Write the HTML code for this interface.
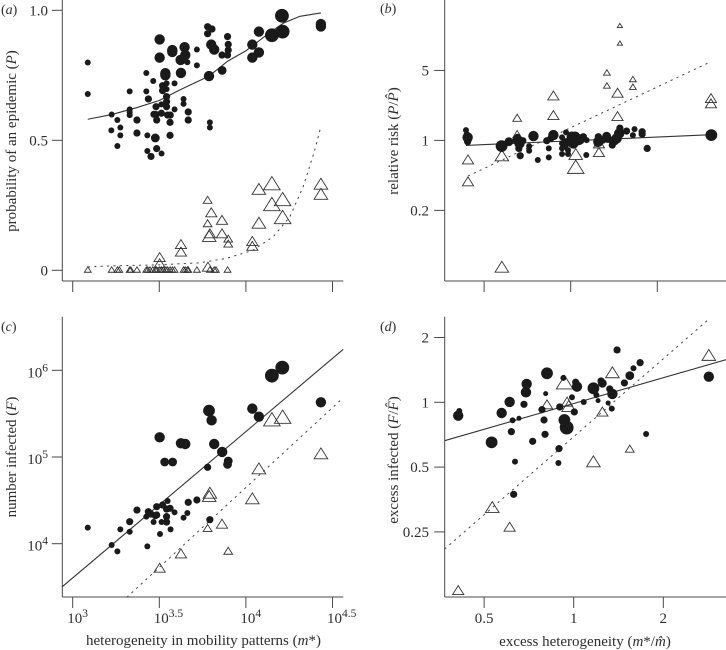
<!DOCTYPE html>
<html>
<head>
<meta charset="utf-8">
<title>Epidemic risk and mobility heterogeneity</title>
<style>
html,body{margin:0;padding:0;background:#fff;}
#figure{display:block;width:726px;height:650px;font-family:"Liberation Serif",serif;font-size:15px;fill:#2e2e2e;filter:blur(0.3px);}
</style>
</head>
<body>
<svg id="figure" xmlns="http://www.w3.org/2000/svg" width="726" height="650" viewBox="0 0 726 650">
<text x="1" y="14" font-size="14">(<tspan font-style="italic">a</tspan>)</text>
<text x="380" y="13" font-size="14">(<tspan font-style="italic">b</tspan>)</text>
<text x="1" y="331" font-size="14">(<tspan font-style="italic">c</tspan>)</text>
<text x="380" y="331" font-size="14">(<tspan font-style="italic">d</tspan>)</text>
<text transform="translate(16,141) rotate(-90)" text-anchor="middle">probability of an epidemic (<tspan font-style="italic">P</tspan>)</text>
<text transform="translate(398,141) rotate(-90)" text-anchor="middle">relative risk (<tspan font-style="italic">P</tspan>/<tspan font-style="italic">P&#770;</tspan>)</text>
<text transform="translate(16,457) rotate(-90)" text-anchor="middle">number infected (<tspan font-style="italic">F</tspan>)</text>
<text transform="translate(398,460) rotate(-90)" text-anchor="middle">excess infected (<tspan font-style="italic">F</tspan>/<tspan font-style="italic">F&#770;</tspan>)</text>
<text x="203.5" y="645" text-anchor="middle">heterogeneity in mobility patterns (<tspan font-style="italic">m</tspan>*)</text>
<text x="585" y="646" text-anchor="middle">excess heterogeneity (<tspan font-style="italic">m</tspan>*/<tspan font-style="italic">m&#770;</tspan>)</text>
</svg>
<script>
/* Panel a: log10(m*) vs probability of epidemic; size classes index marker sizes */
const aCircleLogM=[3.087,3.087,3.225,3.258,3.223,3.275,3.275,3.258,3.329,3.329,3.329,3.329,3.371,3.371,3.425,3.425,3.437,3.431,3.431,3.452,3.477,3.485,3.513,3.465,3.481,3.469,3.481,3.485,3.512,3.512,3.502,3.502,3.535,3.535,3.519,3.519,3.542,3.542,3.542,3.542,3.542,3.548,3.563,3.562,3.562,3.588,3.588,3.575,3.575,3.625,3.623,3.640,3.646,3.650,3.662,3.640,3.640,3.667,3.667,3.717,3.717,3.779,3.779,3.804,3.787,3.792,3.792,3.800,3.817,3.862,3.863,3.894,3.898,3.898,3.894,4.037,4.037,4.075,4.075,4.150,4.212,4.208,4.433,4.433];
const aCircleP=[0.799,0.678,0.599,0.578,0.538,0.549,0.519,0.478,0.688,0.619,0.608,0.597,0.578,0.528,0.759,0.688,0.659,0.519,0.459,0.438,0.509,0.468,0.449,0.728,0.629,0.600,0.599,0.578,0.604,0.638,0.888,0.818,0.758,0.750,0.710,0.691,0.719,0.697,0.668,0.649,0.629,0.597,0.597,0.569,0.519,0.719,0.619,0.847,0.840,0.759,0.809,0.822,0.858,0.828,0.800,0.659,0.640,0.609,0.578,0.849,0.788,0.937,0.910,0.928,0.747,0.569,0.549,0.868,0.849,0.828,0.769,0.899,0.869,0.847,0.828,0.868,0.818,0.918,0.838,0.904,0.918,0.979,0.947,0.938];
const aCircleSize=[1,1,1,1,1,1,1,1,1,1,1,1,2,2,1,1,2,1,1,2,3,2,1,1,2,2,2,2,2,1,4,4,4,4,2,2,1,1,2,2,2,2,2,2,2,1,1,4,4,4,4,2,4,4,1,1,1,2,2,1,1,2,2,2,4,1,1,4,4,2,3,2,2,2,2,4,4,4,4,6,6,6,4,4];
const aTriLogM=[3.087,3.225,3.258,3.269,3.329,3.335,3.371,3.425,3.433,3.446,3.462,3.477,3.485,3.502,3.512,3.523,3.538,3.548,3.562,3.575,3.588,3.640,3.650,3.662,3.667,3.717,3.792,3.817,3.827,3.894,3.502,3.502,3.781,3.625,3.625,3.779,3.800,3.779,3.792,3.788,3.862,3.862,3.898,3.898,4.037,4.037,4.075,4.075,4.150,4.150,4.212,4.212,4.433,4.433];
const aTriP=[0.003,0.003,0.003,0.003,0.003,0.003,0.003,0.003,0.003,0.003,0.003,0.003,0.003,0.003,0.003,0.003,0.003,0.003,0.003,0.003,0.003,0.003,0.003,0.003,0.003,0.003,0.003,0.003,0.003,0.003,0.051,0.027,0.014,0.101,0.072,0.271,0.223,0.181,0.142,0.132,0.194,0.142,0.122,0.103,0.113,0.094,0.183,0.313,0.335,0.255,0.274,0.205,0.333,0.294];
const aTriSize=[1,1,1,1,1,1,1,1,1,1,1,1,1,1,1,1,1,1,1,1,1,1,1,1,1,1,1,1,1,1,3,3,3,3,3,2,3,2,3,4,3,3,2,2,3,3,4,4,5,5,5,5,4,4];
const aSolidLogM=[3.087,3.225,3.371,3.500,3.619,3.787,3.894,4.004,4.119,4.215,4.312,4.433];
const aSolidP=[0.581,0.599,0.626,0.653,0.694,0.747,0.804,0.846,0.905,0.950,0.977,0.990];
const aDashLogM=[3.087,3.225,3.500,3.735,3.888,4.037,4.158,4.254,4.331,4.398,4.433];
const aDashP=[0.013,0.017,0.021,0.029,0.046,0.076,0.129,0.206,0.322,0.463,0.553];
const aYTicks=[0,0.5,1];
const aYLabels=["0","0.5","1.0"];

/* Panel b: log2(excess heterogeneity) vs log10(relative risk) */
const bCircleLog2X=[-1.209,-1.198,-1.190,-1.182,-1.190,-0.798,-0.714,-0.614,-0.591,-0.614,-0.553,-0.599,-0.583,-0.480,-0.480,-0.430,-0.380,-0.253,-0.253,-0.276,-0.230,-0.200,-0.054,-0.100,-0.100,-0.100,-0.100,-0.065,-0.065,-0.031,-0.031,0.012,0.050,-0.008,0.088,0.146,0.184,0.180,0.319,0.319,0.307,0.415,0.395,0.480,0.472,0.568,0.560,0.530,0.511,0.645,0.718,0.737,0.825,0.825,0.883,1.624,0.031,0.104,0.430,0.372];
const bCircleLogRisk=[0.103,0.053,0.030,0.010,-0.013,-0.057,-0.013,0.003,-0.030,0.030,-0.003,-0.080,-0.153,-0.057,-0.103,0.043,-0.196,-0.080,-0.170,-0.003,0.020,0.053,0.080,0.030,-0.030,-0.080,-0.136,-0.013,-0.063,-0.097,-0.136,0.037,0.037,-0.013,0.003,0.037,0.003,-0.146,0.037,-0.013,-0.030,0.043,0.020,-0.047,0.003,0.123,0.070,0.020,-0.013,0.093,0.053,0.113,0.087,0.063,-0.080,0.053,-0.030,0.010,0.010,0.003];
const bCircleSize=[1,2,4,2,2,5,3,4,4,2,2,2,2,1,1,4,1,1,1,2,2,4,1,1,1,1,1,2,1,1,1,4,4,4,4,2,1,1,2,4,2,3,2,2,2,2,4,4,2,2,1,1,2,2,2,5,4,4,2,2];
const bTriLog2X=[0.568,0.568,0.418,0.418,0.718,0.718,0.541,0.541,-0.200,-0.200,-0.618,-0.618,-1.186,-1.186,-0.795,-0.795,0.058,0.058,0.326,0.326,1.620,1.620];
const bTriLogRisk=[1.148,0.972,0.679,0.549,0.613,0.536,0.476,0.243,0.449,0.253,0.226,0.063,-0.190,-0.409,-0.150,-1.262,-0.136,-0.263,-0.117,-0.030,0.423,0.370];
const bTriSize=[0,0,1,1,1,1,3,3,3,3,2,2,3,3,4,4,4,5,3,3,3,3];
const bSolidLog2X=[-1.209,1.624];
const bSolidLogRisk=[-0.050,0.057];
const bDashLog2X=[-1.186,1.601];
const bDashLogRisk=[-0.356,0.779];
const bYTicks=[0.699,0,-0.699];
const bYLabels=["5","1","0.2"];
const bXTicks=[-1,0,1];

/* Panel c: log10(m*) vs log10(number infected) */
const cCircleLogM=[3.087,3.225,3.258,3.275,3.329,3.329,3.371,3.431,3.425,3.437,3.452,3.467,3.477,3.485,3.485,3.504,3.513,3.519,3.542,3.548,3.562,3.542,3.542,3.565,3.588,3.640,3.662,3.667,3.717,3.792,3.502,3.531,3.577,3.625,3.650,3.779,3.787,3.802,3.817,3.863,3.898,3.894,4.037,4.075,4.150,4.210,4.433];
const cCircleLogF=[4.185,3.985,3.912,4.165,4.254,4.138,4.388,3.969,4.312,4.369,4.342,4.250,4.323,4.331,4.427,4.112,4.250,4.446,4.400,4.492,4.408,4.312,4.250,4.165,4.362,4.300,4.354,4.477,4.504,4.277,5.227,4.942,4.942,5.158,5.150,4.881,5.535,5.423,5.150,5.058,4.954,4.915,5.558,5.465,5.938,6.031,5.631];
const cCircleSize=[1,1,1,1,2,1,2,1,1,2,2,1,2,2,2,1,1,2,2,1,2,2,2,1,1,1,1,2,2,2,4,3,3,4,4,2,5,4,4,4,3,3,4,4,6,6,4];
const cTriLogM=[3.502,3.625,3.779,3.862,3.898,4.037,4.075,3.792,3.788,4.150,4.212,4.433];
const cTriLogF=[3.723,3.888,4.181,4.231,3.919,4.523,4.869,4.588,4.550,5.435,5.465,5.042];
const cTriSize=[3,3,2,3,2,4,4,4,4,5,5,4];
const cSolidLogM=[2.940,4.562];
const cSolidLogF=[3.504,6.242];
const cDashLogM=[3.312,4.552];
const cDashLogF=[3.381,5.665];
const cYTicks=[4,5,6];
const logMTicks=[3,3.5,4,4.5];
const logMExponents=["3","3.5","4","4.5"];

/* Panel d: log2(excess heterogeneity) vs log2(excess infected) */
const dCircleLog2X=[-1.277,-1.289,-0.804,-0.916,-0.715,-0.682,-0.696,-0.655,-0.670,-0.611,-0.555,-0.533,-0.525,-0.458,-0.354,-0.331,-0.320,-0.313,-0.298,-0.171,-0.164,-0.156,-0.115,-0.104,-0.078,-0.097,-0.019,0.007,0.022,0.037,0.112,0.220,0.253,0.272,0.305,0.320,0.384,0.402,0.425,0.432,0.484,0.566,0.626,0.667,0.741,0.808,1.508];
const dCircleLog2Y=[-0.134,-0.206,-0.165,-0.618,0.005,-0.278,-0.453,-0.916,-1.420,-0.247,-0.031,0.154,0.283,-0.602,-0.113,-0.273,-0.494,0.134,0.448,-0.937,-0.715,-0.072,0.376,-0.273,-0.391,-0.376,0.077,-0.149,0.309,0.242,0.005,0.216,0.113,0.026,0.329,0.293,-0.010,0.206,-0.098,0.129,0.808,0.299,0.412,0.525,0.612,-0.489,0.396];
const dCircleSize=[1,4,4,5,4,1,2,1,2,0,2,4,4,2,2,2,2,0,5,1,2,2,1,5,6,4,1,2,2,4,1,5,1,0,2,3,0,2,1,4,2,2,3,1,2,1,4];
const dTriLog2X=[-1.289,-0.909,-0.715,-0.298,-0.101,-0.074,-0.056,0.220,0.320,0.432,0.484,0.626,1.508];
const dTriLog2Y=[-2.898,-1.616,-1.920,-0.031,0.309,0.010,-0.057,-0.911,-0.144,0.463,0.808,-0.715,0.731];
const dTriSize=[3,4,3,3,5,3,4,4,3,4,0,2,4];
const dSolidLog2X=[-1.441,1.702];
const dSolidLog2Y=[-0.592,0.659];
const dDashLog2X=[-1.441,1.520];
const dDashLog2Y=[-2.265,1.297];
const dYTicks=[1,0,-1,-2];
const dYLabels=["2","1","0.5","0.25"];
const dXTicks=[-1,0,1];
const dXLabels=["0.5","1","2"];

const NS='http://www.w3.org/2000/svg';
const svg=document.getElementById('figure');
const circleRadii=[2.5,3.0,3.6,4.4,5.2,5.9,6.9];
const triangleHalfWidths=[2.6,3.4,4.4,5.6,6.8,8.3];
const ink='#1a1a1a';
const axisInk='#4a4a4a';

function linear(d0,r0,d1,r1){return function(v){return r0+(v-d0)*(r1-r0)/(d1-d0);};}
function make(tag,attrs){
  const el=document.createElementNS(NS,tag);
  for(const k in attrs){el.setAttribute(k,attrs[k]);}
  svg.appendChild(el);
  return el;
}
function drawCircles(prefix,xs,ys,sizes,sx,sy){
  xs.forEach(function(v,i){
    const el=make('circle',{cx:sx(v),cy:sy(ys[i]),r:circleRadii[sizes[i]],fill:ink});
    
    
  });
}
function drawTriangles(prefix,xs,ys,sizes,sx,sy){
  xs.forEach(function(v,i){
    const cx=sx(v),cy=sy(ys[i]),h=triangleHalfWidths[sizes[i]];
    const pts=[cx,cy-0.8*h,cx+h,cy+0.8*h,cx-h,cy+0.8*h].join(' ');
    const el=make('polygon',{points:pts,fill:'none',stroke:'#333',"stroke-width":0.9});
    
    
  });
}
function drawLine(name,xs,ys,sx,sy,dashed){
  const pts=xs.map(function(v,i){return sx(v)+','+sy(ys[i]);}).join(' ');
  const attrs={points:pts,fill:'none',stroke:dashed?'#444':'#333',"stroke-width":dashed?1:1.1,"stroke-linejoin":'round'};
  if(dashed){attrs['stroke-dasharray']='2.2 4.2';}
  const el=make('polyline',attrs);
  
  
}
function drawSpines(prefix,left,top,bottom,right){
  const v=make('line',{x1:left,y1:top,x2:left,y2:bottom,stroke:axisInk,"stroke-width":1});
  
  
  const h=make('line',{x1:left,y1:bottom,x2:right,y2:bottom,stroke:axisInk,"stroke-width":1});
  
  
}
function drawYTicks(prefix,values,labels,sy,left,labelRight){
  values.forEach(function(v,i){
    const y=sy(v);
    const t=make('line',{x1:left-10.5,y1:y,x2:left,y2:y,stroke:axisInk,"stroke-width":1});
    
    
    if(labels){
      const l=make('text',{x:labelRight,y:y+5,"text-anchor":'end'});
      l.textContent=labels[i];
      
      
    }
  });
}
function drawXTicks(prefix,values,sx,bottom){
  values.forEach(function(v){
    const x=sx(v);
    const t=make('line',{x1:x,y1:bottom,x2:x,y2:bottom+11,stroke:axisInk,"stroke-width":1});
    
    
  });
}
function powerLabel(name,x,y,anchor,exponent){
  const l=make('text',{x:x,y:y,"text-anchor":anchor});
  
  
  l.appendChild(document.createTextNode('10'));
  const s=document.createElementNS(NS,'tspan');
  s.setAttribute('dy','-6');
  s.setAttribute('font-size','11.5');
  s.textContent=exponent;
  l.appendChild(s);
}

/* Scales */
const logMxTop=linear(3,72.7,4.5,332.5);
const aY=linear(0,270.3,1,10.3);
const bX=linear(0,570.7,1,657.3);
const bY=linear(0,140.4,1,40.3);
const cY=linear(4,543.7,6,370.3);
const dX=linear(0,573.7,1,663.3);
const dY=linear(0,402.3,1,337.5);

/* Panel a */
drawSpines('panel-a',62.3,0,281,343.3);
drawYTicks('panel-a',aYTicks,aYLabels,aY,62.3,48);
drawXTicks('panel-a',logMTicks,logMxTop,281);
drawLine('panel-a-dashed-fit',aDashLogM,aDashP,logMxTop,aY,true);
drawLine('panel-a-solid-fit',aSolidLogM,aSolidP,logMxTop,aY,false);
drawTriangles('panel-a',aTriLogM,aTriP,aTriSize,logMxTop,aY);
drawCircles('panel-a',aCircleLogM,aCircleP,aCircleSize,logMxTop,aY);

/* Panel b */
drawSpines('panel-b',444.7,0,281,726);
drawYTicks('panel-b',bYTicks,bYLabels,bY,444.7,429);
drawXTicks('panel-b',bXTicks,bX,281);
drawLine('panel-b-dashed-fit',bDashLog2X,bDashLogRisk,bX,bY,true);
drawLine('panel-b-solid-fit',bSolidLog2X,bSolidLogRisk,bX,bY,false);
drawTriangles('panel-b',bTriLog2X,bTriLogRisk,bTriSize,bX,bY);
drawCircles('panel-b',bCircleLog2X,bCircleLogRisk,bCircleSize,bX,bY);

/* Panel c */
drawSpines('panel-c',62.3,316.7,597,343.3);
drawYTicks('panel-c',cYTicks,null,cY,62.3,48);
cYTicks.forEach(function(v){
  powerLabel('panel-c-y-tick-label',48,cY(v)+7,'end',String(v));
});
drawXTicks('panel-c',logMTicks,logMxTop,597);
logMTicks.forEach(function(v,i){
  powerLabel('panel-c-x-tick-label',logMxTop(v)-5.5,623,'start',logMExponents[i]);
});
drawLine('panel-c-dashed-fit',cDashLogM,cDashLogF,logMxTop,cY,true);
drawLine('panel-c-solid-fit',cSolidLogM,cSolidLogF,logMxTop,cY,false);
drawTriangles('panel-c',cTriLogM,cTriLogF,cTriSize,logMxTop,cY);
drawCircles('panel-c',cCircleLogM,cCircleLogF,cCircleSize,logMxTop,cY);

/* Panel d */
drawSpines('panel-d',444.7,316.7,597,726);
drawYTicks('panel-d',dYTicks,dYLabels,dY,444.7,429);
drawXTicks('panel-d',dXTicks,dX,597);
dXTicks.forEach(function(v,i){
  const l=make('text',{x:dX(v),y:623,"text-anchor":'middle'});
  l.textContent=dXLabels[i];
  
  
});
drawLine('panel-d-dashed-fit',dDashLog2X,dDashLog2Y,dX,dY,true);
drawLine('panel-d-solid-fit',dSolidLog2X,dSolidLog2Y,dX,dY,false);
drawTriangles('panel-d',dTriLog2X,dTriLog2Y,dTriSize,dX,dY);
drawCircles('panel-d',dCircleLog2X,dCircleLog2Y,dCircleSize,dX,dY);
</script>
</body>
</html>
